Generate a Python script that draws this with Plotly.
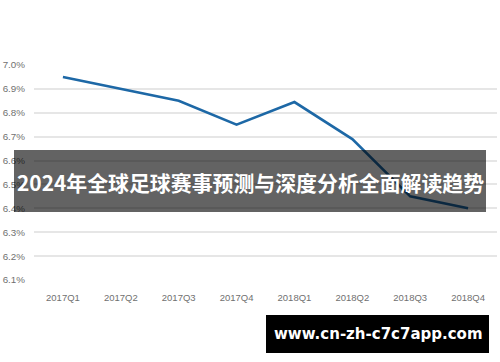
import plotly.graph_objects as go

quarters = ["2017Q1", "2017Q2", "2017Q3", "2017Q4", "2018Q1", "2018Q2", "2018Q3", "2018Q4"]
rates = [6.95, 6.90, 6.85, 6.75, 6.845, 6.69, 6.45, 6.40]
y_ticks = [6.1, 6.2, 6.3, 6.4, 6.5, 6.6, 6.7, 6.8, 6.9, 7.0]
y_tick_labels = ["6.1%", "6.2%", "6.3%", "6.4%", "6.5%", "6.6%", "6.7%", "6.8%", "6.9%", "7.0%"]
banner_title = "2024年全球足球赛事预测与深度分析全面解读趋势"
site_text = "www.cn-zh-c7c7app.com"

W, H = 500, 362
L, R, T, B = 34, 3, 65, 82
pw, ph = W - L - R, H - T - B

def px(x):
    return (x - L) / pw

def py(y):
    return (H - B - y) / ph

fig = go.Figure()
fig.add_trace(go.Scatter(
    x=quarters, y=rates, mode="lines",
    line=dict(color="#1d68a6", width=2.6),
    hoverinfo="skip", showlegend=False,
))

fig.update_layout(
    width=W, height=H,
    margin=dict(l=L, r=R, t=T, b=B),
    paper_bgcolor="white", plot_bgcolor="white",
    font=dict(family="Liberation Sans, Arial, sans-serif", color="#707070", size=10),
    xaxis=dict(
        type="category", showgrid=False, zeroline=False, showline=False,
        ticks="", tickfont=dict(size=9.5, color="#707070"),
        range=[-0.5, len(quarters) - 0.5], ticklabelstandoff=10,
    ),
    yaxis=dict(
        range=[6.1, 7.0], tickvals=y_ticks, ticktext=y_tick_labels,
        showgrid=True, gridcolor="#e6e6e6", gridwidth=1.5,
        zeroline=False, showline=False, ticks="",
        tickfont=dict(size=9.8, color="#707070"), ticklabelstandoff=8,
    ),
    shapes=[
        dict(type="rect", xref="paper", yref="paper",
             x0=px(14), x1=px(486), y0=py(212), y1=py(150),
             fillcolor="rgba(0,0,0,0.61)", line=dict(width=0), layer="above"),
        dict(type="rect", xref="paper", yref="paper",
             x0=px(266), x1=px(489), y0=py(353), y1=py(315),
             fillcolor="#000000", line=dict(width=0), layer="above"),
    ],
    annotations=[
        dict(text=f"<b>{banner_title}</b>", xref="paper", yref="paper",
             x=px(250), y=py(182), showarrow=False, xanchor="center", yanchor="middle",
             font=dict(family="Noto Sans CJK SC", size=20.9, color="white")),
        dict(text=f"<b>{site_text}</b>", xref="paper", yref="paper",
             x=px(378), y=py(334), showarrow=False, xanchor="center", yanchor="middle",
             font=dict(family="DejaVu Sans", size=15, color="white")),
    ],
)

fig.write_html("out.html")
